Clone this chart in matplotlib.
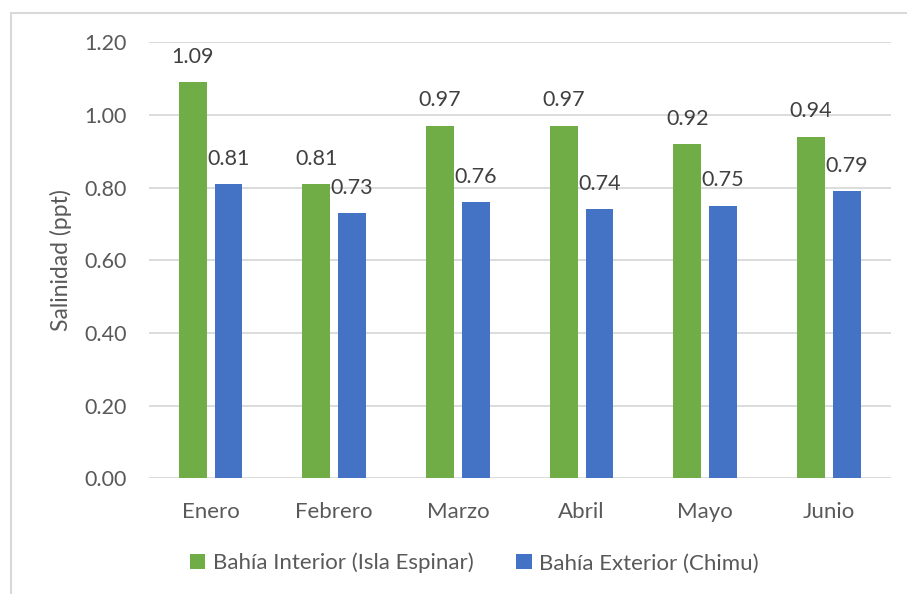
import matplotlib.pyplot as plt
import numpy as np
from matplotlib.patches import Rectangle

plt.rcParams['font.family'] = ['Lato', 'DejaVu Sans']

meses = ['Enero', 'Febrero', 'Marzo', 'Abril', 'Mayo', 'Junio']
interior = [1.09, 0.81, 0.97, 0.97, 0.92, 0.94]
exterior = [0.81, 0.73, 0.76, 0.74, 0.75, 0.79]
yticks = [0.0, 0.2, 0.4, 0.6, 0.8, 1.0, 1.2]

verde = '#70ad47'
azul = '#4472c4'
gris = '#d9d9d9'

fig = plt.figure(figsize=(9.07, 5.94), dpi=100)
ax = fig.add_axes([0.164, 0.195, 0.818, 0.734])

x = np.arange(len(meses))
w = 0.225
off = 0.145
b1 = ax.bar(x - off, interior, w, color=verde, label='Bahía Interior (Isla Espinar)', zorder=3)
b2 = ax.bar(x + off, exterior, w, color=azul, label='Bahía Exterior (Chimu)', zorder=3)

for bars in (b1, b2):
    ax.bar_label(bars, labels=[f'{v:.2f}' for v in bars.datavalues], padding=11,
                 fontsize=15.5, color='#404040')

ax.set_xlim(-0.5, len(meses) - 0.5)
ax.set_ylim(0, 1.2)
ax.set_yticks(yticks)
ax.set_yticklabels([f'{t:.2f}' for t in yticks])
ax.set_xticks(x)
ax.set_xticklabels(meses)
ax.tick_params(axis='both', length=0, labelsize=15.5, labelcolor='#595959')
ax.tick_params(axis='x', labelsize=16)
ax.tick_params(axis='y', pad=16)
ax.tick_params(axis='x', pad=17)
ax.grid(axis='y', color=gris, lw=1.3, zorder=0)
for s in ax.spines.values():
    s.set_visible(False)

ax.set_ylabel('Salinidad (ppt)', fontsize=16.5, color='#595959')
ax.yaxis.set_label_coords(-0.104, 0.5)

fig.legend(loc='center', bbox_to_anchor=(0.523, 0.052), ncol=2, frameon=False,
           fontsize=16, labelcolor='#595959', handlelength=0.7, handleheight=0.7,
           handletextpad=0.35, columnspacing=1.9)

fig.patches.append(Rectangle((11 / 907, -0.05), 1.1, 1 - 13 / 594 + 0.05,
                             transform=fig.transFigure, fill=False,
                             edgecolor=gris, lw=1.5))

fig.savefig('out.png')
